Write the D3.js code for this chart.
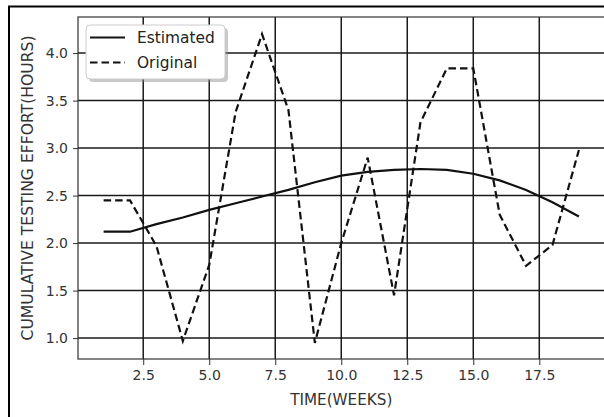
<!doctype html>
<html lang="en">
<head>
<meta charset="utf-8">
<title>Cumulative testing effort</title>
<script src="https://d3js.org/d3.v7.min.js"></script>
<style>
  body { margin: 0; background: #fff; }
  svg { display: block; font-family: "DejaVu Sans", sans-serif; }
</style>
</head>
<body>
<svg id="chart" width="604" height="417"></svg>
<script>
// weeks 1..19
var weeks = [1, 2, 3, 4, 5, 6, 7, 8, 9, 10, 11, 12, 13, 14, 15, 16, 17, 18, 19];
var estimated = [2.12, 2.12, 2.20, 2.27, 2.35, 2.42, 2.49, 2.56, 2.64, 2.71, 2.75, 2.77, 2.78, 2.77, 2.73, 2.66, 2.56, 2.43, 2.28];
var original = [2.45, 2.45, 1.97, 0.97, 1.77, 3.38, 4.20, 3.40, 0.95, 2.00, 2.90, 1.45, 3.27, 3.84, 3.84, 2.30, 1.76, 1.98, 2.98];
var xTicks = [2.5, 5.0, 7.5, 10.0, 12.5, 15.0, 17.5];
var yTicks = [1.0, 1.5, 2.0, 2.5, 3.0, 3.5, 4.0];

var svg = d3.select("#chart");
// plot box (window.top is reserved, so use pl/pr/pt/pb)
var pl = 78, pr = 604.5, pt = 17, pb = 359;

var x = d3.scaleLinear().domain([0.03, 19.97]).range([pl, pr]);
var y = d3.scaleLinear().domain([0.78, 4.38]).range([pb, pt]);

// figure frame (cropped at right/bottom)
svg.append("rect").attr("x", 9).attr("y", 6.5).attr("width", 700).attr("height", 500)
  .attr("fill", "none").attr("stroke", "#000").attr("stroke-width", 2);

// grid
svg.append("g").selectAll("line").data(xTicks).enter().append("line")
  .attr("x1", d => x(d)).attr("x2", d => x(d)).attr("y1", pt).attr("y2", pb)
  .attr("stroke", "#1a1a1a").attr("stroke-width", 1.5);
svg.append("g").selectAll("line").data(yTicks).enter().append("line")
  .attr("x1", pl).attr("x2", pr + 2).attr("y1", d => y(d)).attr("y2", d => y(d))
  .attr("stroke", "#1a1a1a").attr("stroke-width", 1.5);

// axes
var xAxis = svg.append("g").attr("transform", "translate(0," + pb + ")")
  .call(d3.axisBottom(x).tickValues(xTicks).tickFormat(d3.format(".1f")).tickSize(6).tickPadding(5));
var yAxis = svg.append("g").attr("transform", "translate(" + pl + ",0)")
  .call(d3.axisLeft(y).tickValues(yTicks).tickFormat(d3.format(".1f")).tickSize(5).tickPadding(5));
[xAxis, yAxis].forEach(function(a) {
  a.select(".domain").remove();
  a.selectAll("line").attr("stroke", "#333").attr("stroke-width", 1);
  a.selectAll("text").attr("fill", "#333").style("font-size", "14px").style("font-family", "DejaVu Sans");
});

// spines (right one sits just past the crop)
svg.append("rect").attr("x", pl).attr("y", pt).attr("width", pr - pl + 2).attr("height", pb - pt)
  .attr("fill", "none").attr("stroke", "#333").attr("stroke-width", 1.2);

// lines
var line = function(vals) {
  return d3.line().x((d, i) => x(weeks[i])).y(d => y(d))(vals);
};
svg.append("path").attr("d", line(estimated)).attr("fill", "none")
  .attr("stroke", "#111").attr("stroke-width", 2.2);
svg.append("path").attr("d", line(original)).attr("fill", "none")
  .attr("stroke", "#111").attr("stroke-width", 2.2).attr("stroke-dasharray", "7.5,4");

// axis labels
svg.append("text").attr("x", (pl + pr) / 2).attr("y", 405).attr("text-anchor", "middle")
  .attr("fill", "#333").style("font-size", "15.2px").text("TIME(WEEKS)");
svg.append("text").attr("transform", "translate(33," + (pt + pb) / 2 + ") rotate(-90)")
  .attr("text-anchor", "middle").attr("fill", "#333").style("font-size", "15.6px")
  .text("CUMULATIVE TESTING EFFORT(HOURS)");

// legend
var leg = svg.append("g");
leg.append("rect").attr("x", 89).attr("y", 28).attr("width", 139).attr("height", 54).attr("rx", 4)
  .attr("fill", "#888").attr("opacity", 0.45);
leg.append("rect").attr("x", 86).attr("y", 25).attr("width", 139).attr("height", 54).attr("rx", 4)
  .attr("fill", "#fff").attr("stroke", "#ccc").attr("stroke-width", 1);
var entries = [["Estimated", null], ["Original", "7.5,4"]];
entries.forEach(function(e, i) {
  var yy = 37.5 + i * 25;
  leg.append("line").attr("x1", 90).attr("x2", 125).attr("y1", yy).attr("y2", yy)
    .attr("stroke", "#111").attr("stroke-width", 2.2).attr("stroke-dasharray", e[1]);
  leg.append("text").attr("x", 137).attr("y", yy + 5.5).attr("fill", "#222")
    .style("font-size", "15.4px").text(e[0]);
});
</script>
</body>
</html>
